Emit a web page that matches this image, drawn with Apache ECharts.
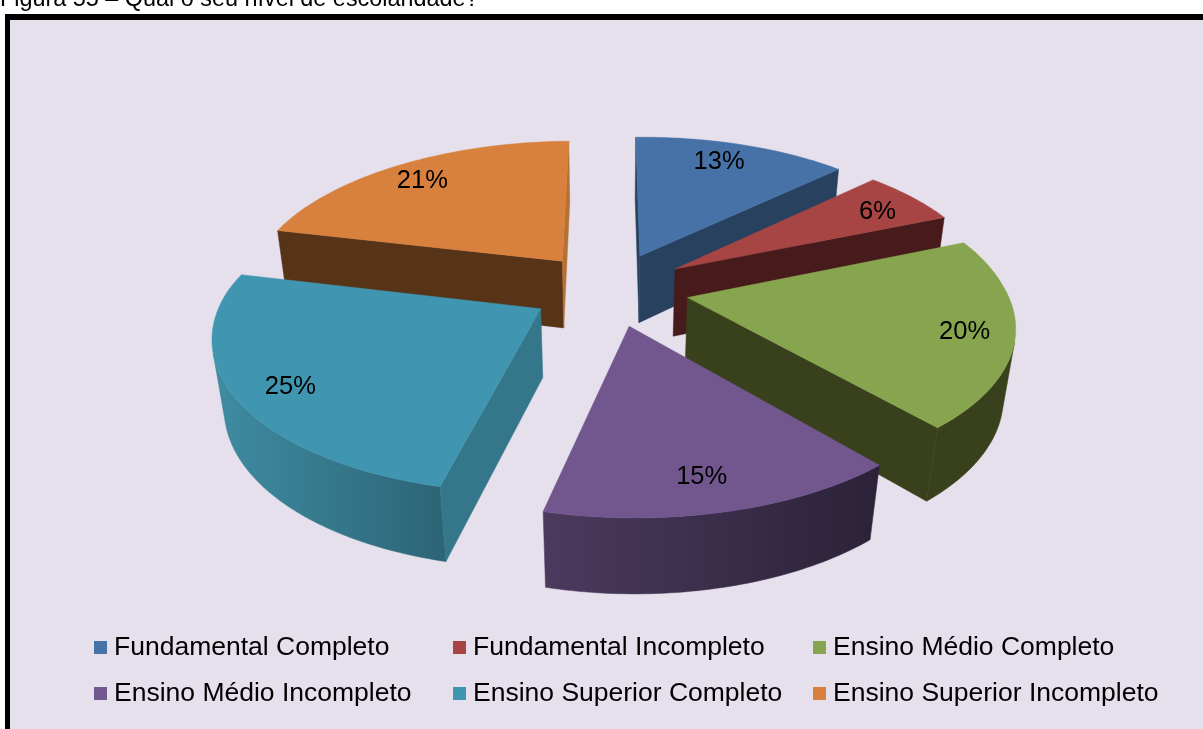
<!DOCTYPE html>
<html>
<head>
<meta charset="utf-8">
<title>Figura 55</title>
<script src="https://cdn.jsdelivr.net/npm/echarts@6/dist/echarts.min.js"></script>
<style>
html, body { margin: 0; padding: 0; background: #fff; overflow: hidden; }
#chart { width: 1203px; height: 729px; }
</style>
</head>
<body>
<div id="chart"></div>
<script>
// data
var categories = ['Fundamental Completo', 'Fundamental Incompleto', 'Ensino Médio Completo', 'Ensino Médio Incompleto', 'Ensino Superior Completo', 'Ensino Superior Incompleto'];
var percentages = [13, 6, 20, 15, 25, 21];

// colours, one per slice
var topColors = ['#4672a8', '#a64544', '#87a44e', '#71578e', '#4096b0', '#d8803d'];
var startWallColors = ['#27415f', '#471b1b', '#38401c', '#2b2238', '#35778a', '#573318'];
var endWallColors = ['#27415f', '#471b1b', '#38401c', '#2b2238', '#35778a', '#b57033'];
var arcWallLeft = ['#27415f', '#471b1b', '#38401c', '#4b3a5e', '#3f8ca2', '#573318'];
var arcWallRight = ['#27415f', '#471b1b', '#38401c', '#2b2238', '#2c6475', '#573318'];
var paintOrder = [5, 0, 1, 4, 2, 3];

// label placement along the slice's middle, plus a small nudge in pixels
var labelFractions = [0.79, 0.85, 0.85, 0.82, 0.79, 0.84];
var labelDx = [-4, -1, 0, -5, -13, -1];
var labelDy = [-4, 5, 4, 4, 10, 2];

// fake 3D view of the pie: plane units are pie radii, Z=1 is the bottom face
var view = { cx: 609.5, cy: 289, a: 317, b: 147.5, c: 70, p: 0.16, q: 0.03, skew: 0.045, roll: 0.009, explode: 0.25 };

var total = percentages.reduce(function (s, v) { return s + v; }, 0);

function project(x, y, z) {
    var w = 1 + view.p * y + view.q * z;
    var px = view.a * x / w;
    var planeY = -view.b * y / w;
    var py = planeY + view.c * z / w;
    // the near half of the picture leans right
    return [view.cx + px + view.skew * Math.max(planeY, 0), view.cy + py - view.roll * px];
}

function polar(deg, r) {
    var t = deg * Math.PI / 180;
    return [Math.sin(t) * r, Math.cos(t) * r];
}

function area(pts) {
    var s = 0;
    for (var i = 0; i < pts.length; i++) {
        var n = pts[(i + 1) % pts.length];
        s += pts[i][0] * n[1] - n[0] * pts[i][1];
    }
    return s / 2;
}

function polygon(pts, fill, z2) {
    return {
        type: 'polygon',
        z2: z2,
        shape: { points: pts },
        style: { fill: fill, stroke: fill, lineWidth: 0.5 }
    };
}

function wall(chain) {
    var top = chain.map(function (q) { return project(q[0], q[1], 0); });
    var bottom = chain.map(function (q) { return project(q[0], q[1], 1); });
    return top.concat(bottom.reverse());
}

function renderSlice(i, value) {
    var before = 0;
    for (var k = 0; k < i; k++) before += percentages[k];
    var start = before / total * 360;
    var end = (before + value) / total * 360;
    var mid = (start + end) / 2;
    var off = polar(mid, view.explode);
    var rim = [];
    var steps = Math.ceil(end - start);
    for (var s = 0; s <= steps; s++) {
        var d = polar(start + (end - start) * s / steps, 1);
        rim.push([off[0] + d[0], off[1] + d[1]]);
    }

    var children = [];
    // only the faces turned to the viewer
    var run = [];
    function flush() {
        if (run.length > 1) {
            children.push(polygon(wall(run), new echarts.graphic.LinearGradient(0, 0, 1, 0, [
                { offset: 0, color: arcWallLeft[i] },
                { offset: 1, color: arcWallRight[i] }
            ]), 1));
        }
        run = [];
    }
    for (var r = 0; r < rim.length - 1; r++) {
        if (area(wall([rim[r], rim[r + 1]])) < 0) {
            if (!run.length) run.push(rim[r]);
            run.push(rim[r + 1]);
        } else {
            flush();
        }
    }
    flush();

    var startFace = wall([off, rim[0]]);
    if (area(startFace) < 0) children.push(polygon(startFace, startWallColors[i], 2));
    var endFace = wall([rim[rim.length - 1], off]);
    if (area(endFace) < 0) children.push(polygon(endFace, endWallColors[i], 2));

    var face = [off].concat(rim).map(function (q) { return project(q[0], q[1], 0); });
    children.push(polygon(face, topColors[i], 3));

    var dir = polar(mid, labelFractions[i]);
    var at = project(off[0] + dir[0], off[1] + dir[1], 0);
    children.push({
        type: 'text',
        z2: 4,
        style: {
            x: at[0] + labelDx[i],
            y: at[1] + labelDy[i],
            text: value + '%',
            align: 'center',
            verticalAlign: 'middle',
            fill: '#000',
            font: '25.5px "Liberation Sans"'
        }
    });
    return { type: 'group', children: children };
}

var series = categories.map(function (name, i) {
    return {
        type: 'custom',
        name: name,
        coordinateSystem: 'none',
        z: 3 + paintOrder.indexOf(i),
        itemStyle: { color: topColors[i] },
        data: [[percentages[i]]],
        renderItem: function (params, api) {
            return renderSlice(i, api.value(0));
        }
    };
});

function legendColumn(left, names) {
    return {
        left: left,
        top: 633,
        orient: 'vertical',
        selectedMode: false,
        padding: 0,
        icon: 'rect',
        itemWidth: 13,
        itemHeight: 13,
        itemGap: 17,
        data: names,
        textStyle: { color: '#000', fontSize: 26.5, fontFamily: 'Liberation Sans', padding: [0, 0, 0, 2], lineHeight: 29 }
    };
}

var chart = echarts.init(document.getElementById('chart'));
chart.setOption({
    animation: false,
    backgroundColor: '#fff',
    title: {
        text: 'Figura 55 – Qual o seu nível de escolaridade?',
        left: 0,
        top: -12,
        padding: 0,
        textStyle: { color: '#000', fontSize: 23.4, fontWeight: 'normal', fontFamily: 'Liberation Sans' }
    },
    graphic: [
        { type: 'rect', z: -1, shape: { x: 5, y: 14, width: 1198, height: 715 }, style: { fill: '#000' } },
        { type: 'rect', z: -1, shape: { x: 10, y: 20, width: 1193, height: 709 }, style: { fill: '#e5e0ec' } }
    ],
    legend: [
        legendColumn(94, [categories[0], categories[3]]),
        legendColumn(453, [categories[1], categories[4]]),
        legendColumn(813, [categories[2], categories[5]])
    ],
    series: series
});
</script>
</body>
</html>
